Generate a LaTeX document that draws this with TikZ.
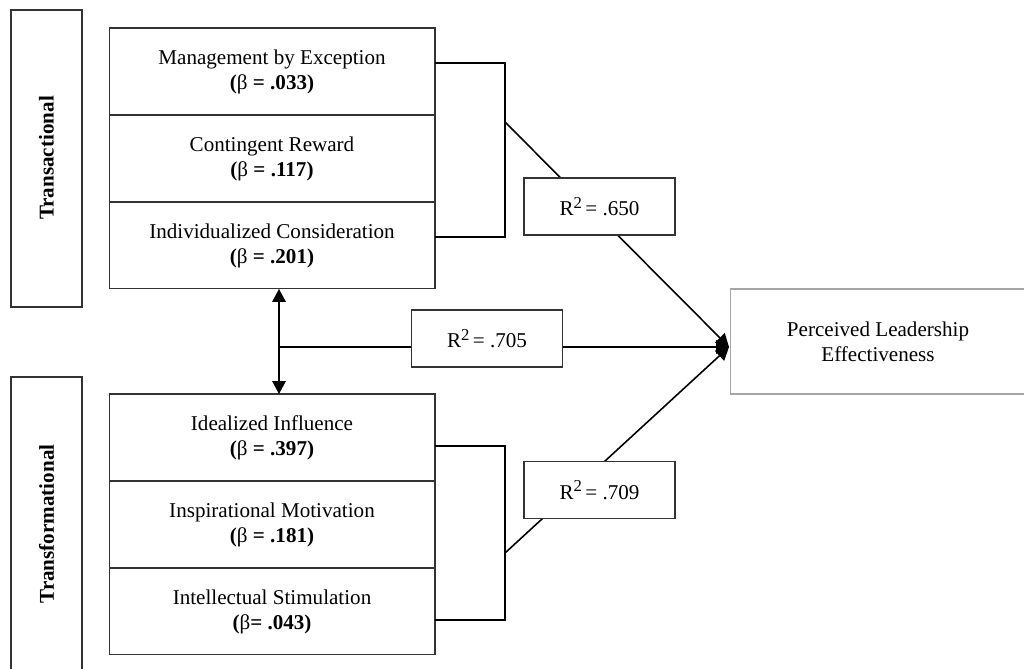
\documentclass[tikz,border=0pt]{standalone}
\usepackage{fontspec}
\setmainfont{Liberation Serif}
\usetikzlibrary{positioning,arrows.meta}
\tikzset{
  cell/.style={draw=black!80, line width=0.6pt, minimum width=6.52cm, minimum height=1.74cm,
    inner sep=0pt, outer sep=0pt, align=center, font=\fontsize{12}{14.2}\selectfont},
  rbox/.style={draw=black!80, fill=white, line width=0.6pt, minimum width=3.02cm,
    minimum height=1.14cm, font=\fontsize{12}{14.2}\selectfont},
  sidebox/.style={draw=black!80, line width=0.6pt},
  sidelbl/.style={rotate=90, font=\fontsize{12}{14}\selectfont\bfseries},
  link/.style={line width=0.9pt},
  tip/.style={-{Triangle[width=2.7mm,length=2.6mm]}}
}
\newcommand{\betaval}[1]{\textbf{(}β\textbf{ = #1)}}
\newcommand{\rsq}[1]{R\raisebox{0.75ex}{\fontsize{9.5}{9.5}\selectfont 2}\,= #1}

\begin{document}
\begin{tikzpicture}[x=0.02cm,y=-0.02cm]
\clip (0,0) rectangle (1024,669);
\fill[white] (0,0) rectangle (1024,669);
% side labels
\draw[sidebox] (11,10) rectangle (82,307);
\draw[sidebox] (11,377) rectangle (82,690);
\node[sidelbl] (lbltrans) at (46.5,158) {Transactional};
\node[sidelbl] (lbltransf) at (46.5,524) {Transformational};

% transactional
\node[cell] (mbe) at (272,71.5) {Management by Exception\\\betaval{.033}};
\node[cell, below=0pt of mbe] (cr) {Contingent Reward\\\betaval{.117}};
\node[cell, below=0pt of cr] (ic) {Individualized Consideration\\\betaval{.201}};

% transformational
\node[cell] (ii) at (272,437.5) {Idealized Influence\\\betaval{.397}};
\node[cell, below=0pt of ii] (im) {Inspirational Motivation\\\betaval{.181}};
\node[cell, below=0pt of im] (is) {Intellectual Stimulation\\\textbf{(}β\textbf{= .043)}};

\node[draw=black!35, line width=0.6pt, minimum width=5.92cm, minimum height=2.1cm,
  align=center, font=\fontsize{12}{14.2}\selectfont] (ple) at (878,341.5)
  {Perceived Leadership\\Effectiveness};

\coordinate (tip) at (729,347);
\coordinate (jmid) at (279,347);
\coordinate (ubt) at (505,63);
\coordinate (ubb) at (505,237);
\coordinate (ua) at (505,122);
\coordinate (lbt) at (505,446);
\coordinate (lbb) at (505,620);
\coordinate (la) at (505,553);

% brackets
\draw[link] (mbe.east |- ubt) -- (ubt) -- (ubb) -- (ic.east |- ubb);
\draw[link] (ii.east |- lbt) -- (lbt) -- (lbb) -- (is.east |- lbb);

\draw[link,tip] (ua) -- (tip);
\draw[link,tip] (la) -- (tip);
\draw[link,tip] (jmid) -- (tip);
\draw[link,{Triangle[width=2.7mm,length=2.6mm]}-{Triangle[width=2.7mm,length=2.6mm]}]
  (ic.south -| jmid) -- (ii.north -| jmid);

\node[rbox] (r650) at (599.5,206.5) {\rsq{.650}};
\node[rbox] (r705) at (487,338.5) {\rsq{.705}};
\node[rbox] (r709) at (599.5,490) {\rsq{.709}};
\end{tikzpicture}
\end{document}
